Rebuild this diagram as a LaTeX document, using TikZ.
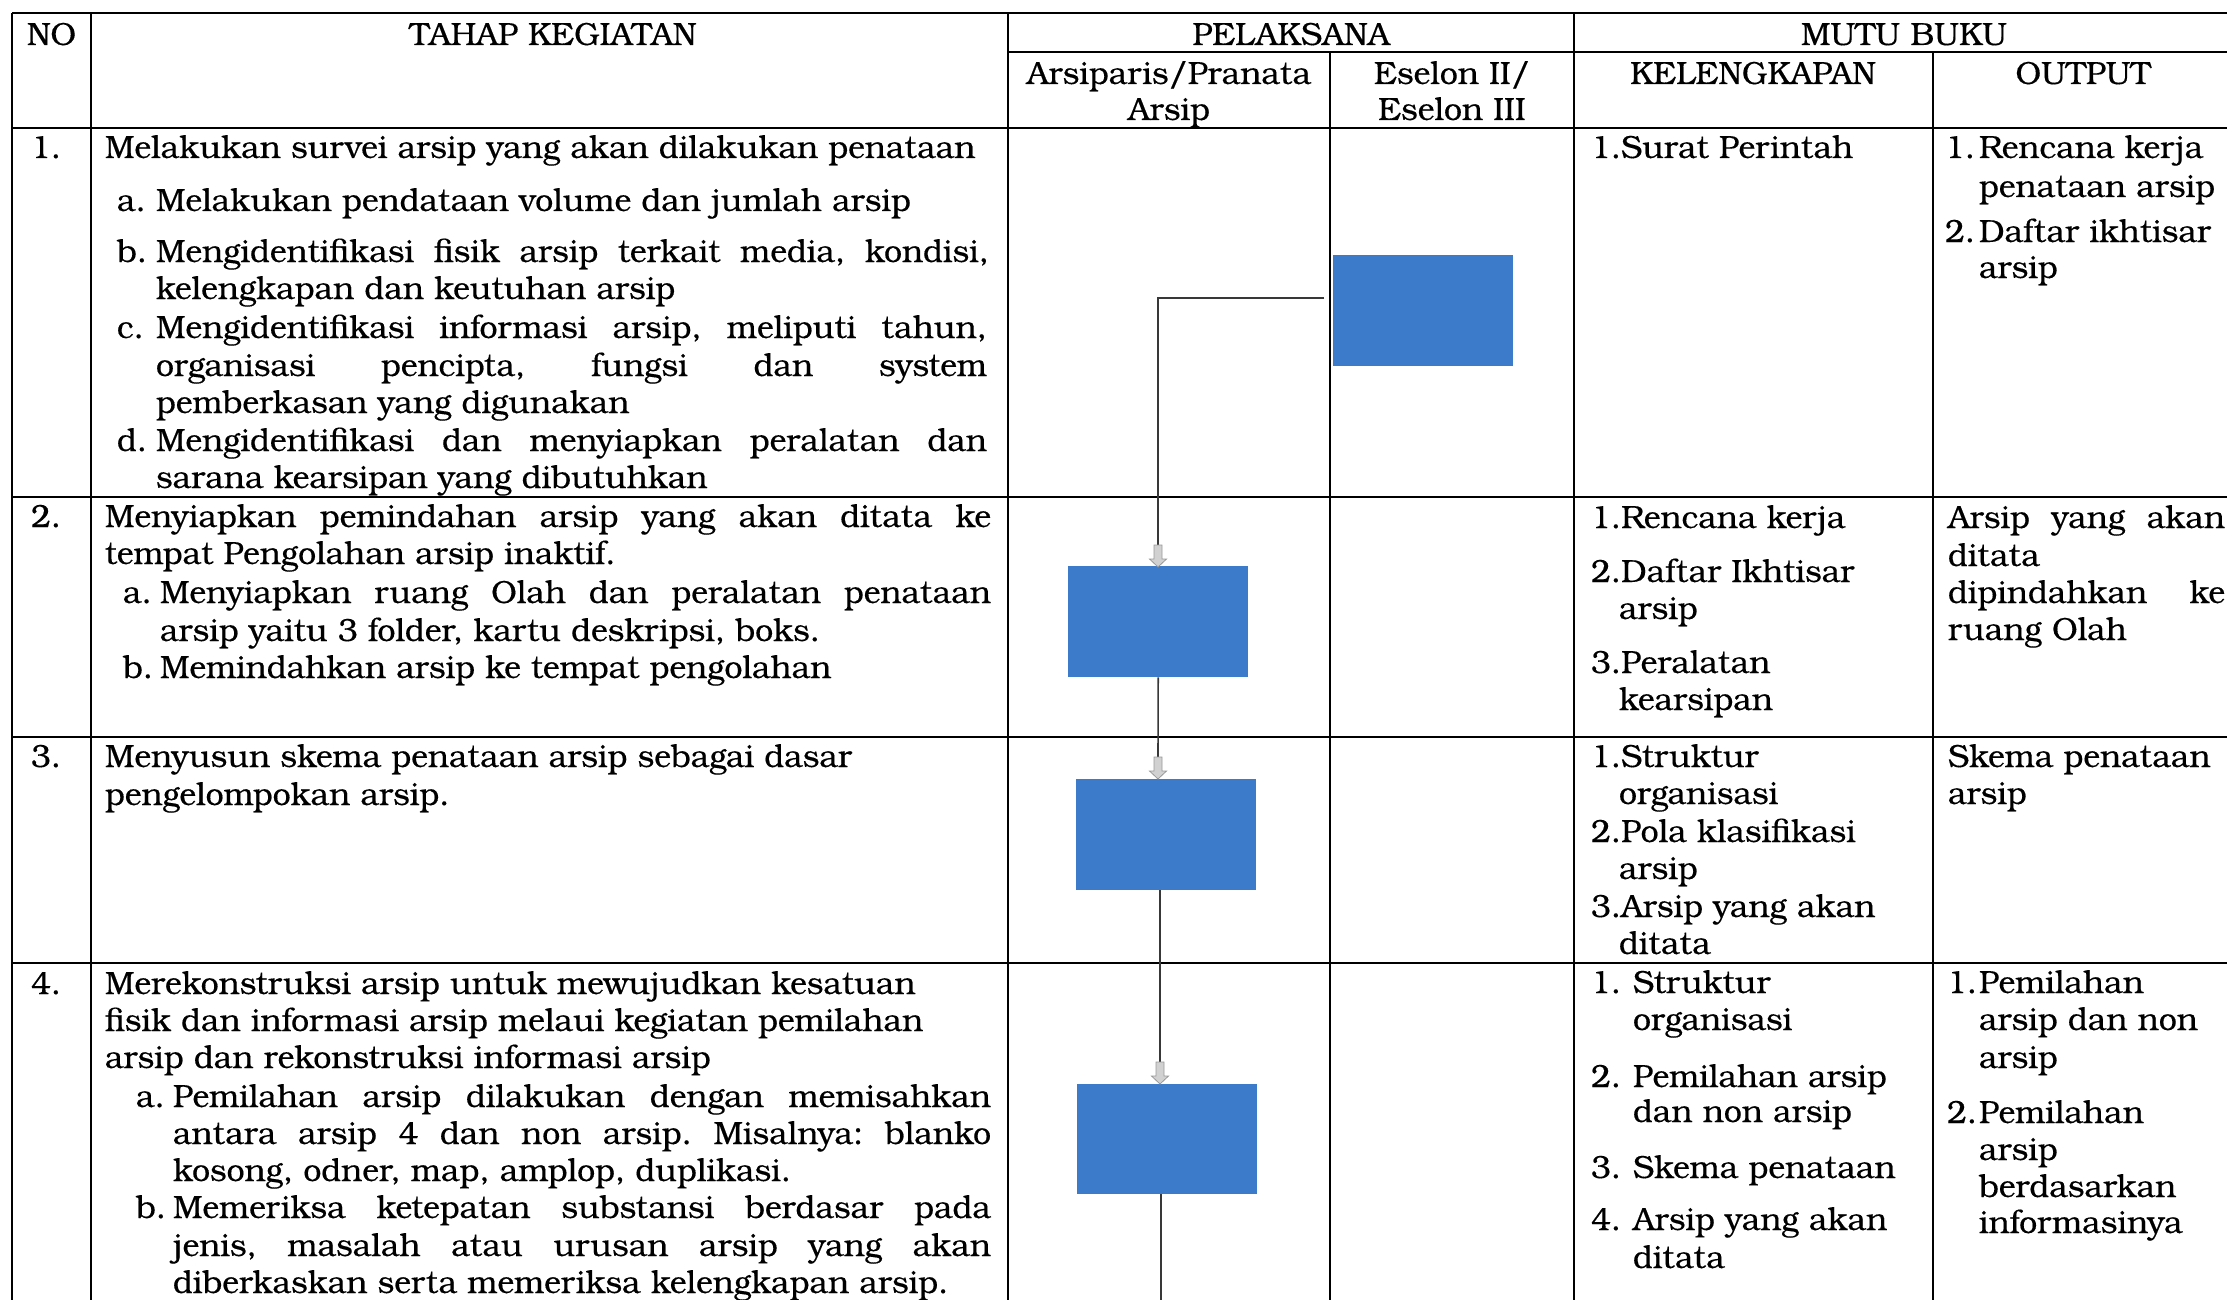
\documentclass[tikz,border=0pt]{standalone}
\usepackage{fontspec}
\setmainfont{TeX Gyre Bonum}[FakeBold=0.35]
\definecolor{boxblue}{RGB}{60,123,201}
\newcommand\fs{\fontsize{32}{37}\selectfont\frenchspacing}
\newcounter{lnc}
\newcommand\tl[3]{\stepcounter{lnc}\node[txt] (t\thelnc) at (#1,#2) {#3};}
\newcommand\tj[4]{\stepcounter{lnc}\node[txt] (t\thelnc) at (#1,#2) {\makebox[#3pt][s]{#4}};}
\newcommand\tc[3]{\stepcounter{lnc}\node[ctr] (t\thelnc) at (#1,#2) {#3};}
\newcommand\blkarrow[1]{\draw[blk] #1 ++(-4,0) -- ++(8,0) -- ++(0,14) -- ++(4.5,0) -- ++(-8.5,8) -- ++(-8.5,-8) -- ++(4.5,0) -- cycle;}
\begin{document}
\frenchspacing
\begin{tikzpicture}[x=1pt,y=-1pt,
  grid/.style={line width=2.6pt,black},
  conn/.style={line width=1.6pt,black!78},
  blk/.style={fill=black!18,draw=black!40,line width=0.8pt},
  txt/.style={anchor=base west,inner sep=0pt,outer sep=0pt,font=\fs},
  ctr/.style={anchor=base,inner sep=0pt,outer sep=0pt,font=\fs},
  bluebox/.style={fill=boxblue,draw=none,inner sep=0pt,anchor=north west,minimum width=180pt,minimum height=111pt}]
\useasboundingbox (0,0) rectangle (2227,1300);
\clip (0,0) rectangle (2227,1300);
\fill[white] (0,0) rectangle (2227,1300);

% grid
\draw[grid] (12,13) -- (2240,13);
\draw[grid] (1008,52) -- (2240,52);
\draw[grid] (12,128) -- (2240,128);
\draw[grid] (12,497) -- (2240,497);
\draw[grid] (12,737) -- (2240,737);
\draw[grid] (12,963) -- (2240,963);
\draw[grid] (12,13) -- (12,1310);
\draw[grid] (91,13) -- (91,1310);
\draw[grid] (1008,13) -- (1008,1310);
\draw[grid] (1330,52) -- (1330,1310);
\draw[grid] (1574,13) -- (1574,1310);
\draw[grid] (1933,52) -- (1933,1310);

% header
\tc{51.5}{45}{NO}
\tc{553}{45}{TAHAP KEGIATAN}
\tc{1291}{45}{PELAKSANA}
\tc{1904}{45}{MUTU BUKU}
\tc{1169}{84}{Arsiparis/Pranata}
\tc{1169}{120}{Arsip}
\tc{1452}{84}{Eselon II/}
\tc{1452}{120}{Eselon III}
\tc{1753}{84}{KELENGKAPAN}
\tc{2083}{84}{OUTPUT}

% blue boxes
\node[bluebox] (b1) at (1333,255) {};
\node[bluebox] (b2) at (1068,566) {};
\node[bluebox] (b3) at (1076,779) {};
\node[bluebox,minimum height=110pt] (b4) at (1077,1084) {};

% connectors
\coordinate (c1) at (1324,298);
\coordinate (a2) at (1158,545);
\coordinate (a3) at (1158,757);
\coordinate (s3) at (1160,890);
\coordinate (a4) at (1160,1062);
\coordinate (s4) at (1161,1194);
\coordinate (e4) at (1161,1310);
\draw[conn] (c1) -| (a2);
\blkarrow{(a2)}
\draw[conn] (b2.south) -- (a3);
\blkarrow{(a3)}
\draw[conn] (s3) -- (a4);
\blkarrow{(a4)}
\draw[conn] (s4) -- (e4);

% row 1
\tl{31}{158}{1.}
\tl{105}{158}{Melakukan survei arsip yang akan dilakukan penataan}
\tl{117}{211}{a.}
\tl{156}{211}{Melakukan pendataan volume dan jumlah arsip}
\tl{117}{262}{b.}
\tj{156}{262}{833}{Mengidentifikasi fisik arsip terkait media, kondisi,}
\tl{156}{299}{kelengkapan dan keutuhan arsip}
\tl{117}{338}{c.}
\tj{156}{338}{831}{Mengidentifikasi informasi arsip, meliputi tahun,}
\tj{156}{376}{831}{organisasi pencipta, fungsi dan system}
\tl{156}{413}{pemberkasan yang digunakan}
\tl{117}{451}{d.}
\tj{156}{451}{831}{Mengidentifikasi dan menyiapkan peralatan dan}
\tl{156}{488}{sarana kearsipan yang dibutuhkan}
\tl{1591}{158}{1.Surat Perintah}
\tl{1945}{158}{1.}
\tl{1979}{158}{Rencana kerja}
\tl{1979}{197}{penataan arsip}
\tl{1945}{242}{2.}
\tl{1979}{242}{Daftar ikhtisar}
\tl{1979}{278}{arsip}

% row 2
\tl{31}{527}{2.}
\tj{105}{527}{886}{Menyiapkan pemindahan arsip yang akan ditata ke}
\tl{105}{564}{tempat Pengolahan arsip inaktif.}
\tl{123}{603}{a.}
\tj{160}{603}{831}{Menyiapkan ruang Olah dan peralatan penataan}
\tl{160}{641}{arsip yaitu 3 folder, kartu deskripsi, boks.}
\tl{123}{678}{b.}
\tl{160}{678}{Memindahkan arsip ke tempat pengolahan}
\tl{1591}{528}{1.Rencana kerja}
\tl{1591}{582}{2.Daftar Ikhtisar}
\tl{1619}{619}{arsip}
\tl{1591}{673}{3.Peralatan}
\tl{1619}{710}{kearsipan}
\tj{1948}{528}{277}{Arsip yang akan}
\tl{1948}{566}{ditata}
\tj{1948}{603}{277}{dipindahkan ke}
\tl{1948}{640}{ruang Olah}

% row 3
\tl{31}{767}{3.}
\tl{105}{767}{Menyusun skema penataan arsip sebagai dasar}
\tl{105}{805}{pengelompokan arsip.}
\tl{1591}{767}{1.Struktur}
\tl{1619}{804}{organisasi}
\tl{1591}{842}{2.Pola klasifikasi}
\tl{1619}{879}{arsip}
\tl{1591}{917}{3.Arsip yang akan}
\tl{1619}{954}{ditata}
\tl{1948}{767}{Skema penataan}
\tl{1948}{804}{arsip}

% row 4
\tl{31}{994}{4.}
\tl{105}{994}{Merekonstruksi arsip untuk mewujudkan kesatuan}
\tl{105}{1031}{fisik dan informasi arsip melaui kegiatan pemilahan}
\tl{105}{1068}{arsip dan rekonstruksi informasi arsip}
\tl{136}{1107}{a.}
\tj{173}{1107}{818}{Pemilahan arsip dilakukan dengan memisahkan}
\tj{173}{1144}{818}{antara arsip 4 dan non arsip. Misalnya: blanko}
\tl{173}{1181}{kosong, odner, map, amplop, duplikasi.}
\tl{136}{1218}{b.}
\tj{173}{1218}{818}{Memeriksa ketepatan substansi berdasar pada}
\tj{173}{1256}{818}{jenis, masalah atau urusan arsip yang akan}
\tl{173}{1293}{diberkaskan serta memeriksa kelengkapan arsip.}
\tl{1591}{993}{1.}
\tl{1633}{993}{Struktur}
\tl{1633}{1030}{organisasi}
\tl{1591}{1087}{2.}
\tl{1633}{1087}{Pemilahan arsip}
\tl{1633}{1122}{dan non arsip}
\tl{1591}{1178}{3.}
\tl{1633}{1178}{Skema penataan}
\tl{1591}{1230}{4.}
\tl{1633}{1230}{Arsip yang akan}
\tl{1633}{1268}{ditata}
\tl{1947}{993}{1.}
\tl{1979}{993}{Pemilahan}
\tl{1979}{1030}{arsip dan non}
\tl{1979}{1068}{arsip}
\tl{1947}{1123}{2.}
\tl{1979}{1123}{Pemilahan}
\tl{1979}{1160}{arsip}
\tl{1979}{1197}{berdasarkan}
\tl{1979}{1233}{informasinya}
\end{tikzpicture}
\end{document}
